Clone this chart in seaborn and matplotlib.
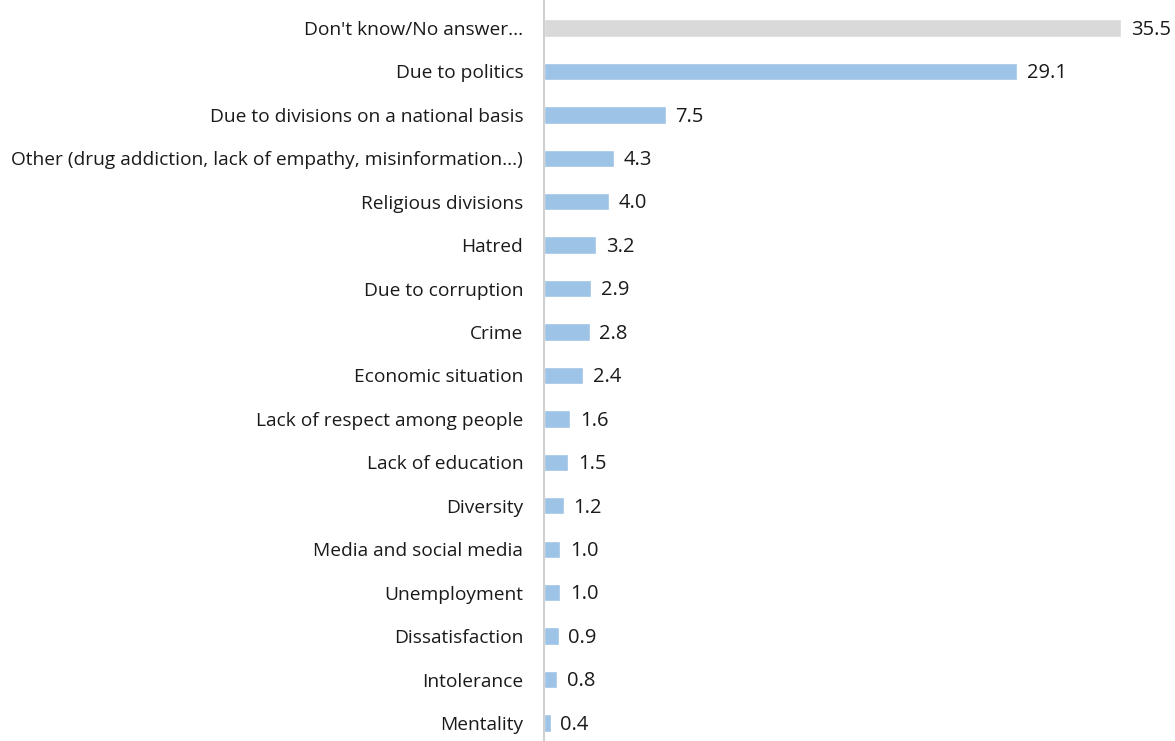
import matplotlib
matplotlib.use("Agg")
import matplotlib.pyplot as plt
import seaborn as sns
import pandas as pd

categories = [
    "Don't know/No answer...",
    "Due to politics",
    "Due to divisions on a national basis",
    "Other (drug addiction, lack of empathy, misinformation...)",
    "Religious divisions",
    "Hatred",
    "Due to corruption",
    "Crime",
    "Economic situation",
    "Lack of respect among people",
    "Lack of education",
    "Diversity",
    "Media and social media",
    "Unemployment",
    "Dissatisfaction",
    "Intolerance",
    "Mentality",
]
values = [35.5, 29.1, 7.5, 4.3, 4.0, 3.2, 2.9, 2.8, 2.4, 1.6, 1.5, 1.2, 1.0, 1.0, 0.9, 0.8, 0.4]
bar_colors = ["#d9d9d9"] + ["#9dc3e6"] * (len(categories) - 1)

sns.set_theme(style="white")
plt.rcParams["font.family"] = ["Open Sans", "DejaVu Sans"]

df = pd.DataFrame({"category": categories, "value": values})

fig = plt.figure(figsize=(11.75, 7.41), dpi=100)
ax = fig.add_axes([544 / 1175, 0, 1 - 544 / 1175, 1])

sns.barplot(data=df, x="value", y="category", hue="category", palette=bar_colors,
            legend=False, width=0.4, ax=ax, saturation=1)

px_per_unit = 16.25
ax.set_xlim(0, (1175 - 544) / px_per_unit)
spacing = (723 - 28) / 16
ax.set_ylim(16 + (741 - 723) / spacing, -28 / spacing)

for i, v in enumerate(values):
    ax.text(v + 0.6, i + 0.04, f"{v:.1f}", va="center", ha="left", fontsize=14.5, color="#1a1a1a")

ax.set_xlabel("")
ax.set_ylabel("")
ax.set_xticks([])
ax.tick_params(axis="y", length=0, pad=15, labelsize=13.8, labelcolor="#1a1a1a")
for s in ["top", "right", "bottom"]:
    ax.spines[s].set_visible(False)
ax.spines["left"].set_color("#d0d0d0")
ax.spines["left"].set_linewidth(1.5)

fig.savefig("out.png", dpi=100)
